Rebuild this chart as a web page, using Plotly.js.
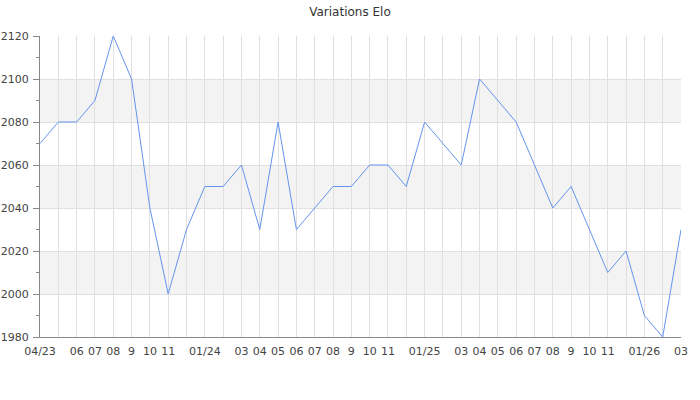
<!DOCTYPE html>
<html><head><meta charset="utf-8">
<script src="https://cdn.plot.ly/plotly-3.0.1.min.js"></script>
<style>html,body{margin:0;padding:0;background:#fff}#c{width:700px;height:400px}</style>
</head><body><div id="c"></div>
<script>
const months = ["2023-04","2023-05","2023-06","2023-07","2023-08","2023-09","2023-10","2023-11","2023-12",
"2024-01","2024-02","2024-03","2024-04","2024-05","2024-06","2024-07","2024-08","2024-09","2024-10","2024-11","2024-12",
"2025-01","2025-02","2025-03","2025-04","2025-05","2025-06","2025-07","2025-08","2025-09","2025-10","2025-11","2025-12",
"2026-01","2026-02","2026-03"];
const elo = [2070,2080,2080,2090,2120,2100,2040,2000,2030,
2050,2050,2060,2030,2080,2030,2040,2050,2050,2060,2060,2050,
2080,2070,2060,2100,2090,2080,2060,2040,2050,2030,2010,2020,
1990,1980,2030];
const tickLabels = ["04/23","","06","07","08","9","10","11","",
"01/24","","03","04","05","06","07","08","9","10","11","",
"01/25","","03","04","05","06","07","08","9","10","11","",
"01/26","","03"];
const yMin = 1980, yMax = 2120, yStep = 20;
const bandStarts = [2000, 2040, 2080];

const shapes = bandStarts.map(b => ({
  type:'rect', xref:'paper', yref:'y', x0:0, x1:1, y0:b, y1:b+yStep,
  fillcolor:'#f3f3f3', line:{width:0}, layer:'below'
}));

const trace = {
  x: months, y: elo, type:'scatter', mode:'lines',
  line:{color:'#6495ed', width:1}, hoverinfo:'skip'
};

const layout = {
  width:700, height:400,
  margin:{l:40, r:19, t:36, b:63},
  paper_bgcolor:'#fff', plot_bgcolor:'rgba(0,0,0,0)',
  font:{family:'DejaVu Sans, sans-serif', size:11, color:'#444'},
  title:{text:'Variations Elo', x:0.5, xanchor:'center', y:0.98, yanchor:'top', font:{size:12, color:'#333'}},
  showlegend:false,
  shapes: shapes,
  xaxis:{
    type:'category', range:[0, months.length-1],
    tickmode:'array', tickvals: months, ticktext: tickLabels,
    showgrid:true, gridcolor:'#e0e0e0', gridwidth:1,
    showline:true, linecolor:'#888', linewidth:1,
    ticks:'', zeroline:false, tickangle:0, ticklabelstandoff:4,
    tickfont:{size:11, color:'#444'}
  },
  yaxis:{
    range:[yMin, yMax], dtick:yStep, tick0:yMin,
    showgrid:true, gridcolor:'#e0e0e0', gridwidth:1,
    showline:true, linecolor:'#888', linewidth:1,
    ticks:'outside', ticklen:6, tickcolor:'#888', ticklabelstandoff:2,
    minor:{dtick:10, ticks:'outside', ticklen:3, tickcolor:'#888', showgrid:false},
    zeroline:false, tickfont:{size:11, color:'#444'}
  }
};
Plotly.newPlot('c', [trace], layout, {staticPlot:true, displayModeBar:false});
</script></body></html>
